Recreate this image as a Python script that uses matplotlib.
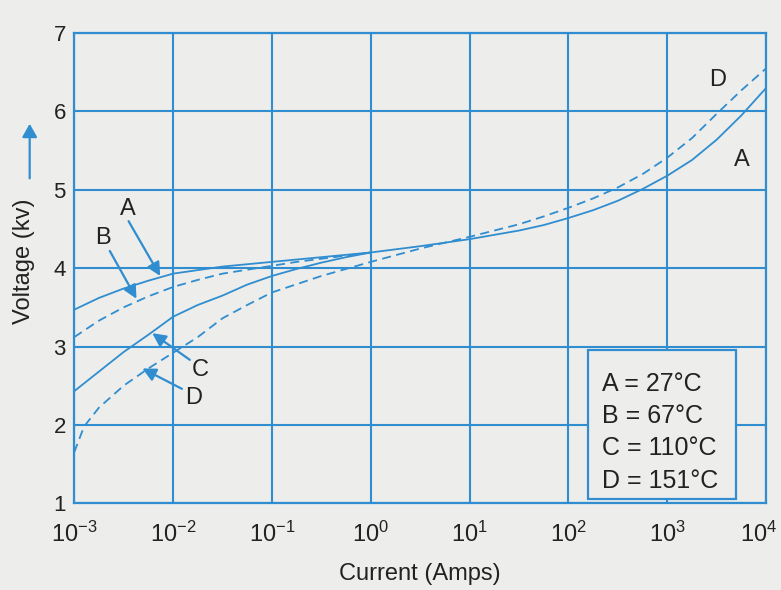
import numpy as np
import matplotlib
matplotlib.use("Agg")
import matplotlib.pyplot as plt
import matplotlib.transforms as mtransforms
from matplotlib.patches import Rectangle, FancyArrowPatch

plt.rcParams['font.family'] = ['Liberation Sans', 'DejaVu Sans']
plt.rcParams['mathtext.fontset'] = 'custom'
plt.rcParams['mathtext.rm'] = 'Liberation Sans'
plt.rcParams['mathtext.it'] = 'Liberation Sans:italic'
plt.rcParams['mathtext.bf'] = 'Liberation Sans:bold'

# ---- data (log10 of current in amps, voltage in kV) ----
logI_A = [-3, -2.75, -2.5, -2.25, -2, -1.5, -1, -0.5, 0, 0.5, 1, 1.5, 1.75, 2, 2.25, 2.5, 2.75, 3, 3.25, 3.5, 3.75, 4]
volt_A = [3.47, 3.62, 3.74, 3.84, 3.93, 4.02, 4.08, 4.14, 4.20, 4.28, 4.37, 4.48, 4.55, 4.64, 4.74, 4.86, 5.01, 5.18, 5.38, 5.64, 5.95, 6.30]

logI_B = [-3, -2.75, -2.5, -2.25, -2, -1.75, -1.5, -1.25, -1, -0.75, -0.5, -0.25, 0]
volt_B = [3.12, 3.33, 3.50, 3.64, 3.76, 3.85, 3.93, 3.98, 4.03, 4.08, 4.12, 4.16, 4.20]

logI_C = [-3, -2.75, -2.5, -2.25, -2, -1.75, -1.5, -1.25, -1, -0.75, -0.5, -0.25, 0]
volt_C = [2.43, 2.68, 2.93, 3.15, 3.38, 3.53, 3.65, 3.79, 3.90, 3.99, 4.07, 4.14, 4.20]

logI_D = [-3, -2.9, -2.75, -2.5, -2.25, -2, -1.75, -1.5, -1.25, -1, -0.5, 0, 0.5, 1, 1.5, 1.75, 2, 2.25, 2.5, 2.75, 3, 3.25, 3.5, 3.75, 4]
volt_D = [1.65, 1.98, 2.22, 2.50, 2.72, 2.92, 3.12, 3.36, 3.53, 3.69, 3.90, 4.08, 4.25, 4.40, 4.56, 4.66, 4.77, 4.89, 5.03, 5.20, 5.41, 5.66, 5.97, 6.27, 6.55]

x_ticks = [1e-3, 1e-2, 1e-1, 1e0, 1e1, 1e2, 1e3, 1e4]
x_tick_labels = [r'$10^{-3}$', r'$10^{-2}$', r'$10^{-1}$', r'$10^{0}$',
                 r'$10^{1}$', r'$10^{2}$', r'$10^{3}$', r'$10^{4}$']
y_ticks = [1, 2, 3, 4, 5, 6, 7]

legend_lines = ['A = 27°C', 'B = 67°C', 'C = 110°C', 'D = 151°C']

BLUE = '#2f8dd0'
BG = '#ededeb'
TXT = '#222222'

fig = plt.figure(figsize=(7.81, 5.90), dpi=100, facecolor=BG)
ax = fig.add_axes([0.095, 0.147, 0.886, 0.797])
ax.set_facecolor(BG)

ax.set_xscale('log')
ax.set_xlim(1e-3, 1e4)
ax.set_ylim(1, 7)

for lx, v, ls in [(logI_A, volt_A, '-'), (logI_B, volt_B, '--'),
                  (logI_C, volt_C, '-'), (logI_D, volt_D, '--')]:
    line, = ax.plot(10 ** np.array(lx), v, color=BLUE, lw=1.3, ls=ls, zorder=3)
    if ls == '--':
        line.set_dashes((5, 3))

ax.set_xticks(x_ticks)
ax.set_xticklabels(x_tick_labels)
ax.set_yticks(y_ticks)
ax.minorticks_off()
ax.tick_params(axis='both', length=0, colors=TXT)
ax.tick_params(axis='x', labelsize=17, pad=13)
ax.tick_params(axis='y', labelsize=16, pad=6)
# nudge the last x tick label inward so it stays on the canvas
last = ax.get_xticklabels()[-1]
last.set_transform(last.get_transform() +
                   mtransforms.ScaledTranslation(-8 / 100, 0, fig.dpi_scale_trans))
ax.grid(True, color=BLUE, lw=1.5, zorder=1)
for s in ax.spines.values():
    s.set_color(BLUE)
    s.set_linewidth(1.6)

ax.set_xlabel('Current (Amps)', fontsize=17, color=TXT, labelpad=12)
fig.text(0.031, 0.557, 'Voltage (kv)', rotation=90, fontsize=17, color=TXT,
         ha='center', va='center')
fig.add_artist(FancyArrowPatch(
    (0.038, 0.693), (0.038, 0.795), transform=fig.transFigure,
    arrowstyle='-|>,head_length=8,head_width=4.5', color=BLUE, lw=1.6))

# curve labels with arrows
arrow_kw = dict(arrowstyle='-|>,head_length=0.8,head_width=0.4', color=BLUE, lw=1.6,
                shrinkA=0, shrinkB=0)
lab_kw = dict(fontsize=17, color=TXT, ha='center', va='center')
ax.text(10 ** -2.46, 4.76, 'A', **lab_kw)
ax.annotate('', xy=(10 ** -2.13, 3.90), xytext=(10 ** -2.45, 4.60), arrowprops=arrow_kw)
ax.text(10 ** -2.71, 4.39, 'B', **lab_kw)
ax.annotate('', xy=(10 ** -2.37, 3.61), xytext=(10 ** -2.64, 4.22), arrowprops=arrow_kw)
ax.text(10 ** -1.72, 2.70, 'C', **lab_kw)
ax.annotate('', xy=(10 ** -2.21, 3.17), xytext=(10 ** -1.83, 2.83), arrowprops=arrow_kw)
ax.text(10 ** -1.79, 2.34, 'D', **lab_kw)
ax.annotate('', xy=(10 ** -2.31, 2.72), xytext=(10 ** -1.91, 2.46), arrowprops=arrow_kw)
ax.text(10 ** 3.51, 6.40, 'D', **lab_kw)
ax.text(10 ** 3.75, 5.38, 'A', **lab_kw)

# legend box
ax.add_patch(Rectangle((10 ** 2.2, 1.06), 10 ** 3.69 - 10 ** 2.2, 1.90,
                       facecolor=BG, edgecolor=BLUE, lw=1.6, zorder=4))
for i, t in enumerate(legend_lines):
    ax.text(10 ** 2.34, 2.52 - i * 0.41, t, fontsize=18, color=TXT,
            ha='left', va='center', zorder=5)

fig.savefig('out.png', dpi=100, facecolor=BG)
